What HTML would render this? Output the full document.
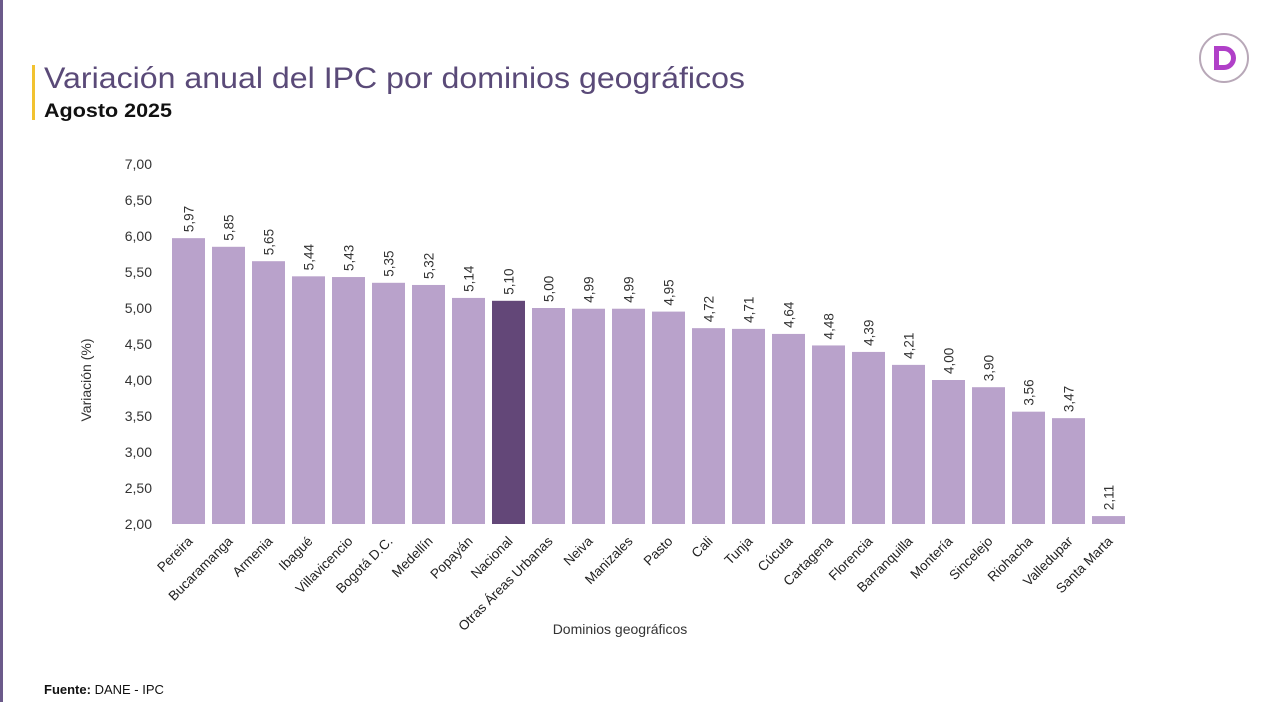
<!DOCTYPE html>
<html><head><meta charset="utf-8"><style>
body{margin:0;width:1280px;height:702px;background:#fff;overflow:hidden;font-family:"Liberation Sans",sans-serif}
</style></head><body>
<svg width="1280" height="702" xmlns="http://www.w3.org/2000/svg" font-family="Liberation Sans, sans-serif">
<rect x="0" y="0" width="3" height="702" fill="#6b5a8a"/>
<rect x="32" y="65" width="3" height="55" fill="#f2c230"/>
<text x="44" y="88" font-size="30" fill="#5a4a78" textLength="701" lengthAdjust="spacingAndGlyphs">Variación anual del IPC por dominios geográficos</text>
<text x="44" y="117" font-size="19" font-weight="bold" fill="#111" textLength="128" lengthAdjust="spacingAndGlyphs">Agosto 2025</text>
<circle cx="1224" cy="58" r="24" fill="none" stroke="#b8a8b8" stroke-width="2"/>
<path d="M1214 46 h10 a12 12 0 0 1 0 24 h-10 z M1219 51 v14 h5 a7 7 0 0 0 0 -14 z" fill="#b040c8" fill-rule="evenodd"/>
<g font-size="14" fill="#333" text-anchor="end">
<text x="152" y="169">7,00</text><text x="152" y="205">6,50</text><text x="152" y="241">6,00</text><text x="152" y="277">5,50</text><text x="152" y="313">5,00</text><text x="152" y="349">4,50</text><text x="152" y="385">4,00</text><text x="152" y="421">3,50</text><text x="152" y="457">3,00</text><text x="152" y="493">2,50</text><text x="152" y="529">2,00</text>
</g>
<text transform="translate(91,380) rotate(-90)" font-size="14" fill="#333" text-anchor="middle">Variación (%)</text>
<text x="620" y="634" font-size="14" fill="#333" text-anchor="middle">Dominios geográficos</text>
<text x="44" y="694" font-size="13" fill="#111"><tspan font-weight="bold">Fuente:</tspan> DANE - IPC</text>
<g id="bars"></g>
</svg>
<script>
var d=[["Pereira",5.97],["Bucaramanga",5.85],["Armenia",5.65],["Ibagué",5.44],["Villavicencio",5.43],["Bogotá D.C.",5.35],["Medellín",5.32],["Popayán",5.14],["Nacional",5.10],["Otras Áreas Urbanas",5.00],["Neiva",4.99],["Manizales",4.99],["Pasto",4.95],["Cali",4.72],["Tunja",4.71],["Cúcuta",4.64],["Cartagena",4.48],["Florencia",4.39],["Barranquilla",4.21],["Montería",4.00],["Sincelejo",3.90],["Riohacha",3.56],["Valledupar",3.47],["Santa Marta",2.11]];
var s="";
d.forEach(function(e,i){var x=172+40*i,y=524-(e[1]-2)*72,c=x+16.5;
s+='<rect x="'+x+'" y="'+y+'" width="33" height="'+(524-y)+'" fill="'+(i==8?'#634778':'#b9a2cb')+'"/>';
s+='<text transform="translate('+(c+5)+','+(y-6)+') rotate(-90)" font-size="13.5" fill="#333">'+e[1].toFixed(2).replace('.',',')+'</text>';
s+='<text transform="translate('+(c+5)+',542) rotate(-45)" font-size="13.5" fill="#222" text-anchor="end">'+e[0]+'</text>';});
document.getElementById("bars").innerHTML=s;
</script>
</body></html>
